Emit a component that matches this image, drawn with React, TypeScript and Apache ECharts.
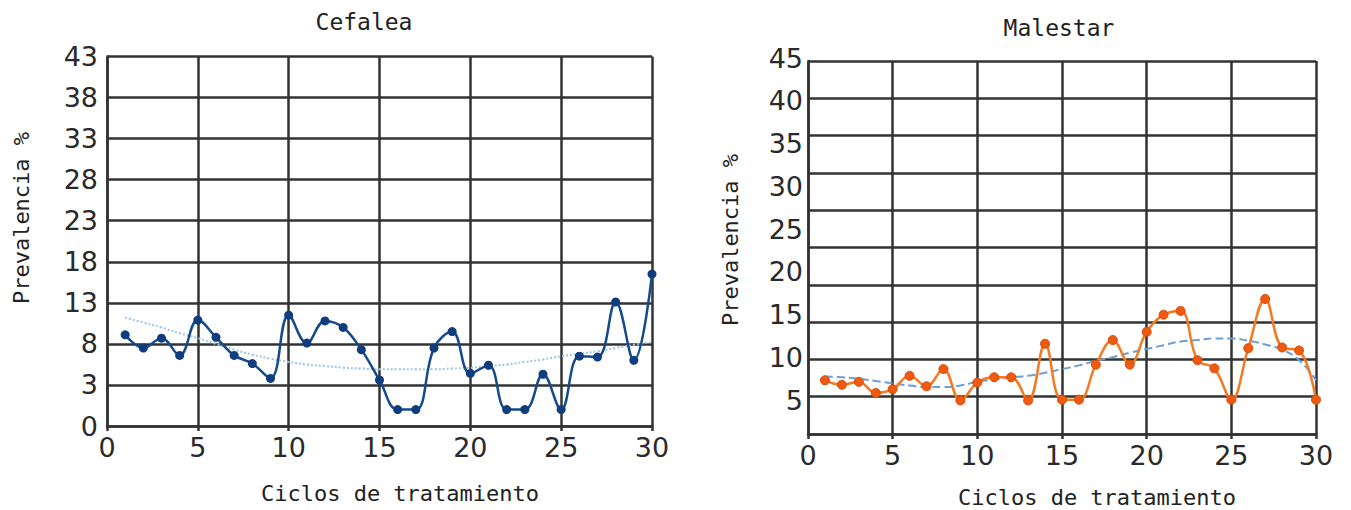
import React, { useEffect, useRef } from "react";
import * as echarts from "echarts";

const cycles = [1, 2, 3, 4, 5, 6, 7, 8, 9, 10, 11, 12, 13, 14, 15, 16, 17, 18, 19, 20, 21, 22, 23, 24, 25, 26, 27, 28, 29, 30];

const cefalea = [9.1, 7.5, 8.7, 6.6, 10.9, 8.8, 6.6, 5.6, 3.8, 11.5, 8.1, 10.8, 10.0, 7.3, 3.6, 0, 0, 7.5, 9.5, 4.4, 5.4, 0, 0, 4.3, 0, 6.5, 6.4, 13.1, 6.0, 16.5];
const cefaleaTrend = [11.2, 10.6, 10.0, 9.3, 8.7, 8.0, 7.3, 6.7, 6.2, 5.8, 5.5, 5.3, 5.1, 5.0, 4.9, 4.9, 4.9, 4.9, 5.0, 5.1, 5.3, 5.5, 5.8, 6.1, 6.5, 6.8, 7.1, 7.5, 7.9, 8.2];
const cefaleaYLabels = ["0", "3", "8", "13", "18", "23", "28", "33", "38", "43"];

const malestar = [7.2, 6.6, 7.0, 5.5, 6.0, 7.8, 6.4, 8.7, 4.5, 6.9, 7.6, 7.6, 4.5, 12.1, 4.6, 4.6, 9.3, 12.6, 9.3, 13.7, 16.0, 16.5, 9.9, 8.8, 4.6, 11.5, 18.1, 11.6, 11.2, 4.6];
const malestarTrend = [7.7, 7.6, 7.4, 7.1, 6.8, 6.5, 6.3, 6.3, 6.5, 7.0, 7.3, 7.6, 7.8, 8.2, 8.7, 9.2, 9.8, 10.3, 10.9, 11.4, 11.9, 12.4, 12.6, 12.8, 12.8, 12.5, 12.0, 11.3, 9.9, 7.2];

const titles = { left: "Cefalea", right: "Malestar" };
const xName = "Ciclos de tratamiento";
const yName = "Prevalencia %";

const GRID_COLOR = "#333";
const LABEL_FONT = "DejaVu Sans";
const TEXT_FONT = "DejaVu Sans Mono";

export default function App() {
  const ref = useRef<HTMLDivElement>(null);
  useEffect(() => {
    if (!ref.current) return;
    const chart = echarts.init(ref.current, null, { renderer: "svg" });
    const pair = (vals: number[]) => cycles.map((c, i) => [c, vals[i]]);
    const lineCommon = { lineStyle: { color: GRID_COLOR, width: 2.5 } };
    const labelStyle = { fontFamily: LABEL_FONT, fontSize: 27, color: "#2a2a2a" };
    const xAxisBase = {
      type: "value",
      min: 0,
      max: 30,
      interval: 5,
      axisLine: { show: true, onZero: false, ...lineCommon },
      axisTick: { show: true, length: 5, inside: false, ...lineCommon },
      splitLine: { show: true, ...lineCommon },
      axisLabel: { ...labelStyle, margin: 8 },
    };
    const textStyle = (size: number) => ({
      font: `${size}px "${TEXT_FONT}"`,
      fill: "#222",
      textAlign: "center",
      textVerticalAlign: "middle",
    });
    const option: any = {
      animation: false,
      backgroundColor: "#fff",
      grid: [
        { left: 107, top: 56.5, width: 545, height: 369.5 },
        { left: 808, top: 61, width: 508, height: 373 },
        { left: 808, top: 58, width: 508, height: 384.75 },
      ],
      xAxis: [
        { ...xAxisBase, gridIndex: 0 },
        { ...xAxisBase, gridIndex: 1 },
        { type: "value", gridIndex: 2, min: 0, max: 30, show: false },
      ],
      yAxis: [
        {
          type: "category",
          gridIndex: 0,
          data: cefaleaYLabels,
          boundaryGap: false,
          axisLine: { show: true, ...lineCommon },
          axisTick: { show: false },
          splitLine: { show: true, interval: 0, ...lineCommon },
          axisLabel: { ...labelStyle, interval: 0, margin: 9 },
        },
        { type: "value", gridIndex: 0, min: -2, max: 43, show: false },
        {
          type: "value",
          gridIndex: 1,
          min: 0,
          max: 50,
          interval: 5,
          axisLine: { show: true, onZero: false, ...lineCommon },
          axisTick: { show: false },
          splitLine: { show: true, ...lineCommon },
          axisLabel: { show: false },
        },
        {
          type: "value",
          gridIndex: 2,
          min: 0,
          max: 45,
          interval: 5,
          axisLine: { show: false },
          axisTick: { show: false },
          splitLine: { show: false },
          axisLabel: { ...labelStyle, margin: 5, showMinLabel: false },
        },
      ],
      series: [
        {
          name: "Cefalea tendencia",
          type: "line",
          xAxisIndex: 0,
          yAxisIndex: 1,
          data: pair(cefaleaTrend),
          smooth: true,
          symbol: "none",
          lineStyle: { color: "#9cc3e8", width: 2, type: "dotted" },
          z: 3,
        },
        {
          name: "Cefalea",
          type: "line",
          xAxisIndex: 0,
          yAxisIndex: 1,
          data: pair(cefalea),
          smooth: 0.4,
          symbol: "circle",
          symbolSize: 9,
          itemStyle: { color: "#0f3d7d" },
          lineStyle: { color: "#154a8c", width: 2.5 },
          z: 4,
        },
        {
          name: "Malestar tendencia",
          type: "line",
          xAxisIndex: 1,
          yAxisIndex: 2,
          data: pair(malestarTrend),
          smooth: true,
          symbol: "none",
          lineStyle: { color: "#6a9fd6", width: 2, type: "dashed" },
          z: 3,
        },
        {
          name: "Malestar",
          type: "line",
          xAxisIndex: 1,
          yAxisIndex: 2,
          data: pair(malestar),
          smooth: 0.4,
          symbol: "circle",
          symbolSize: 9,
          itemStyle: { color: "#f05a10", borderColor: "#d94a05", borderWidth: 1 },
          lineStyle: { color: "#f47a22", width: 2.5 },
          z: 4,
        },
      ],
      graphic: [
        { type: "text", x: 364, y: 22, style: { text: titles.left, ...textStyle(23) } },
        { type: "text", x: 1059, y: 28, style: { text: titles.right, ...textStyle(23) } },
        { type: "text", x: 400, y: 493, style: { text: xName, ...textStyle(22) } },
        { type: "text", x: 1097, y: 497, style: { text: xName, ...textStyle(22) } },
        { type: "text", x: 21, y: 218, rotation: Math.PI / 2, style: { text: yName, ...textStyle(22) } },
        { type: "text", x: 730, y: 240, rotation: Math.PI / 2, style: { text: yName, ...textStyle(22) } },
      ],
    };
    chart.setOption(option);
    return () => chart.dispose();
  }, []);
  return (
    <div
      ref={ref}
      style={{ position: "fixed", left: 0, top: 0, width: 1351, height: 510, background: "#fff" }}
    />
  );
}
